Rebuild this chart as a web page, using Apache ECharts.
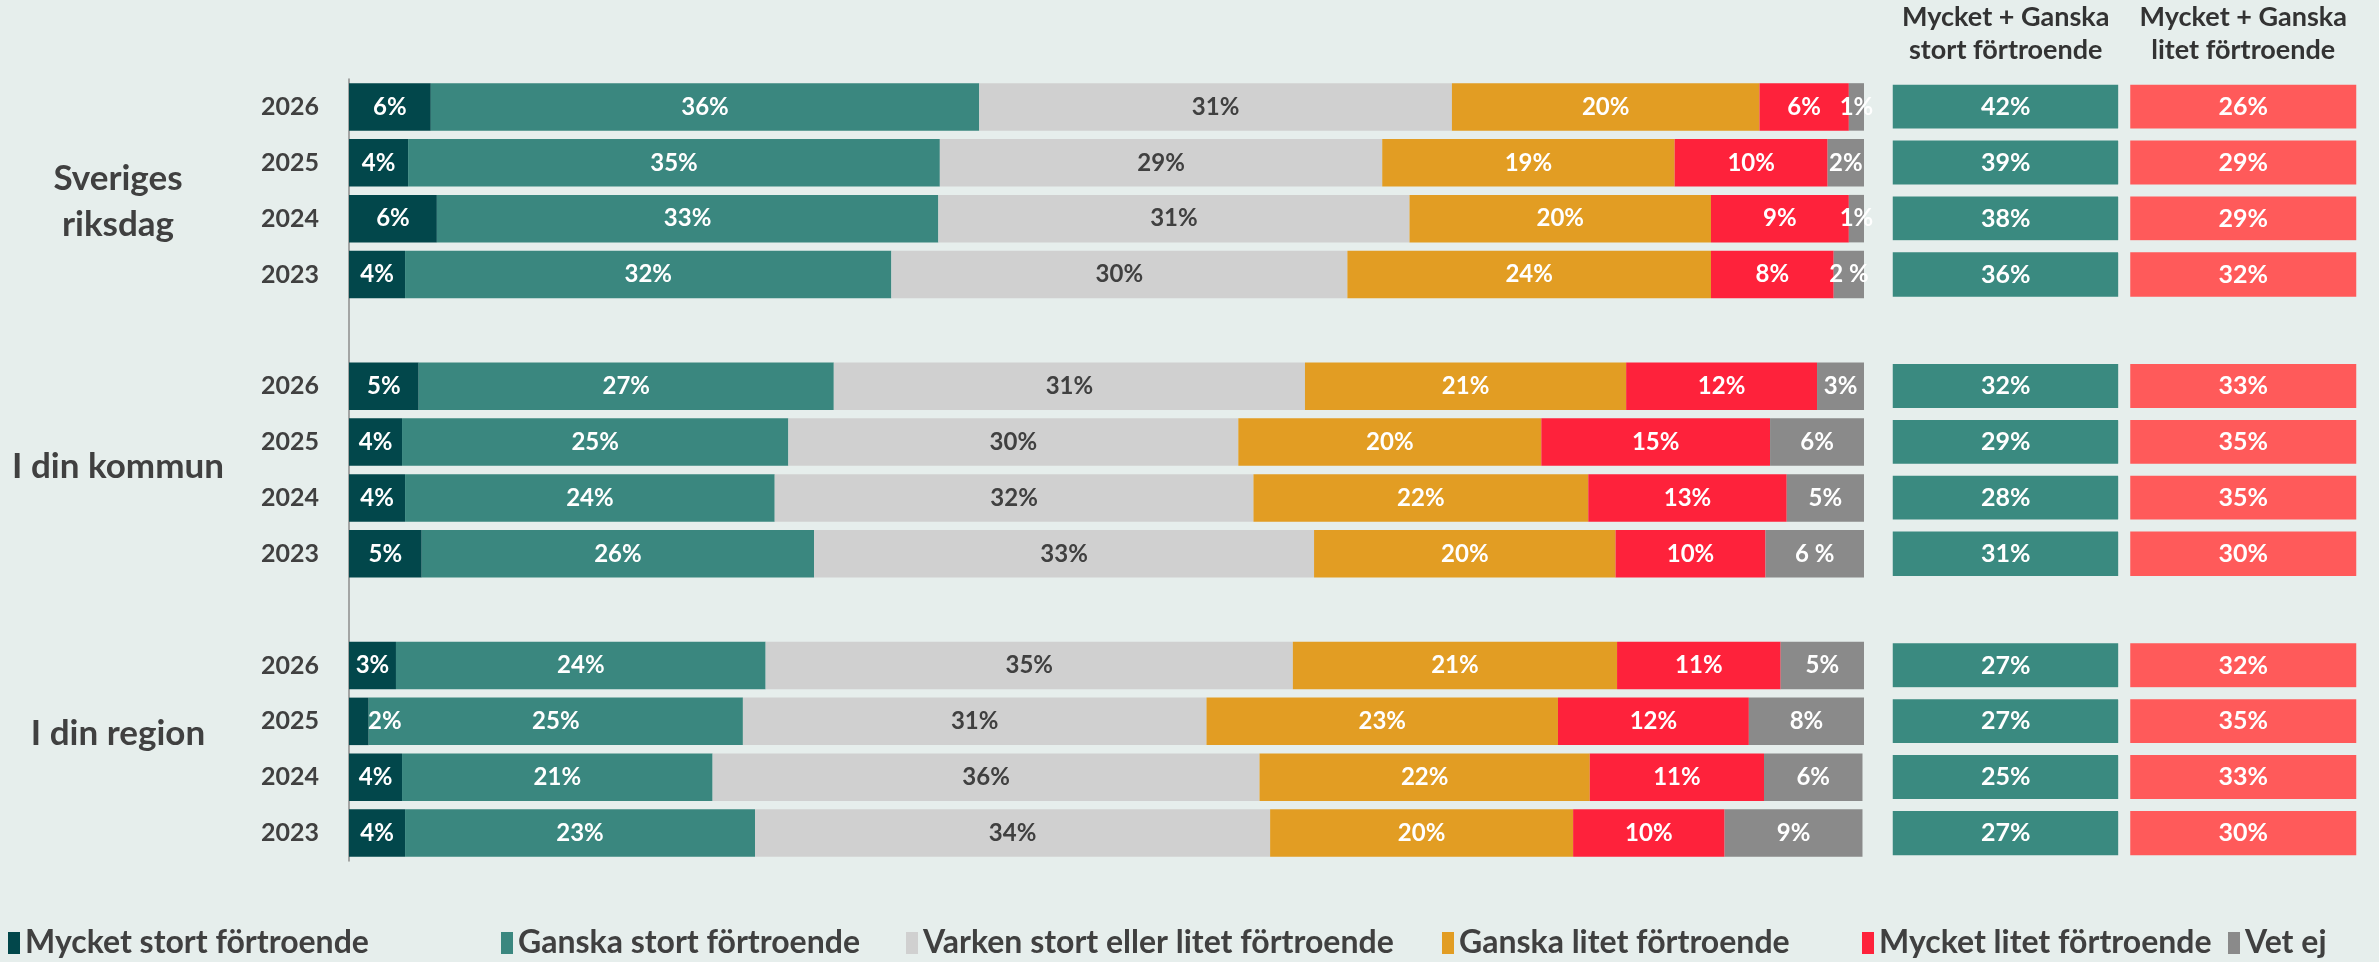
<!DOCTYPE html>
<html>
<head>
<meta charset="utf-8">
<script src="https://cdn.jsdelivr.net/npm/echarts@6/dist/echarts.min.js"></script>
<style>
  html, body { margin: 0; padding: 0; background: #e6eeec; }
  #chart { width: 2379px; height: 962px; }
</style>
</head>
<body>
<div id="chart"></div>
<script>
const groups = ['Sveriges riksdag', 'I din kommun', 'I din region'];
const years = ['2026', '2025', '2024', '2023'];

// andelar i procent, 12 rader: riksdag 2026..2023, kommun 2026..2023, region 2026..2023
const mycketStort = [5.4, 3.9, 5.8, 3.7, 4.6, 3.5, 3.7, 4.8, 3.1, 1.3, 3.5, 3.7];
const ganskaStort = [36.2, 35.1, 33.1, 32.1, 27.4, 25.5, 24.4, 25.9, 24.4, 24.7, 20.5, 23.1];
const varken = [31.2, 29.2, 31.1, 30.1, 31.1, 29.7, 31.6, 33.0, 34.8, 30.6, 36.1, 34.0];
const ganskaLitet = [20.3, 19.3, 19.9, 24.0, 21.2, 20.0, 22.1, 19.9, 21.4, 23.2, 21.8, 20.0];
const mycketLitet = [5.9, 10.1, 9.1, 8.1, 12.6, 15.1, 13.1, 9.9, 10.8, 12.6, 11.5, 10.0];
const vetEj = [1.0, 2.4, 1.0, 2.0, 3.2, 6.2, 5.2, 6.6, 5.6, 7.6, 6.5, 9.1];

// etiketterna som de står i bilden
const mycketStortTxt = ['6%', '4%', '6%', '4%', '5%', '4%', '4%', '5%', '3%', '2%', '4%', '4%'];
const ganskaStortTxt = ['36%', '35%', '33%', '32%', '27%', '25%', '24%', '26%', '24%', '25%', '21%', '23%'];
const varkenTxt = ['31%', '29%', '31%', '30%', '31%', '30%', '32%', '33%', '35%', '31%', '36%', '34%'];
const ganskaLitetTxt = ['20%', '19%', '20%', '24%', '21%', '20%', '22%', '20%', '21%', '23%', '22%', '20%'];
const mycketLitetTxt = ['6%', '10%', '9%', '8%', '12%', '15%', '13%', '10%', '11%', '12%', '11%', '10%'];
const vetEjTxt = ['1%', '2%', '1%', '2 %', '3%', '6%', '5%', '6 %', '5%', '8%', '6%', '9%'];

// Mycket + Ganska
const stortSumma = [42, 39, 38, 36, 32, 29, 28, 31, 27, 27, 25, 27];
const litetSumma = [26, 29, 29, 32, 33, 35, 35, 30, 32, 35, 33, 30];
const panelRubriker = ['Mycket + Ganska\nstort förtroende', 'Mycket + Ganska\nlitet förtroende'];

const FONT = 'Lato, "Open Sans", sans-serif';
const BG = '#e6eeec';

// kategorier med en tom rad mellan grupperna
const rows = [];
groups.forEach((g, gi) => {
  if (gi > 0) rows.push('tom' + gi);
  years.forEach(y => rows.push(g + '|' + y));
});
// 12 värden -> 14 rader
function spread(arr) {
  const out = [];
  arr.forEach((v, i) => {
    if (i > 0 && i % 4 === 0) out.push(null);
    out.push(v);
  });
  return out;
}
function rowIndex(i) { return i + Math.floor(i / 4); }

function barSeries(name, values, texts, color, textColor) {
  const txt = spread(texts);
  return {
    name: name,
    type: 'bar',
    stack: 'alla',
    barWidth: '85%',
    itemStyle: { color: color },
    emphasis: { disabled: true },
    label: {
      show: true,
      position: 'inside',
      color: textColor,
      fontFamily: FONT,
      fontWeight: 'bold',
      fontSize: 24,
      formatter: p => txt[p.dataIndex] || ''
    },
    data: spread(values)
  };
}

const series = [
  barSeries('Mycket stort förtroende', mycketStort, mycketStortTxt, '#02474b', '#fff'),
  barSeries('Ganska stort förtroende', ganskaStort, ganskaStortTxt, '#3a877f', '#fff'),
  barSeries('Varken stort eller litet förtroende', varken, varkenTxt, '#d0d0d0', '#404040'),
  barSeries('Ganska litet förtroende', ganskaLitet, ganskaLitetTxt, '#e29d23', '#fff'),
  barSeries('Mycket litet förtroende', mycketLitet, mycketLitetTxt, '#fe223b', '#fff'),
  barSeries('Vet ej', vetEj, vetEjTxt, '#8a8a8a', '#fff')
];

const panelData = [];
stortSumma.forEach((v, i) => panelData.push({ value: [0, rowIndex(i), v], itemStyle: { color: '#3a8a80' } }));
litetSumma.forEach((v, i) => panelData.push({ value: [1, rowIndex(i), v], itemStyle: { color: '#ff5a5a' } }));

series.push({
  type: 'heatmap',
  xAxisIndex: 1,
  yAxisIndex: 1,
  itemStyle: { borderColor: BG, borderWidth: 12 },
  emphasis: { disabled: true },
  label: {
    show: true,
    color: '#fff',
    fontFamily: FONT,
    fontWeight: 'bold',
    fontSize: 25,
    formatter: p => p.value[2] + '%'
  },
  data: panelData
});

const legendLeft = [3, 496, 901, 1437, 1857, 2223];

const chart = echarts.init(document.getElementById('chart'));
chart.setOption({
  backgroundColor: BG,
  animation: false,
  grid: [
    { left: 349, width: 1515, top: 79, height: 782 },
    { left: 1887, width: 475, top: 79, height: 782 }
  ],
  xAxis: [
    { type: 'value', min: 0, max: 100, show: false, gridIndex: 0 },
    {
      type: 'category', gridIndex: 1, position: 'top', data: panelRubriker,
      axisLine: { show: false }, axisTick: { show: false }, splitLine: { show: false },
      axisLabel: {
        interval: 0, margin: 12, color: '#333', fontFamily: FONT,
        fontWeight: 'bold', fontSize: 27, lineHeight: 33
      }
    }
  ],
  yAxis: [
    {
      type: 'category', gridIndex: 0, inverse: true, data: rows,
      axisLine: { lineStyle: { color: '#8c8c8c', width: 1.5 } },
      axisTick: { length: 9, lineStyle: { color: '#8c8c8c', width: 1.5 } },
      axisLabel: {
        margin: 30, color: '#404040', fontFamily: FONT, fontWeight: 'bold', fontSize: 25,
        formatter: v => v.indexOf('|') < 0 ? '' : v.split('|')[1]
      }
    },
    { type: 'category', gridIndex: 1, inverse: true, data: rows, show: false }
  ],
  legend: series.slice(0, 6).map((s, i) => ({
    data: [s.name],
    left: legendLeft[i],
    top: 920,
    icon: 'rect',
    itemWidth: 12,
    itemHeight: 22,
    selectedMode: false,
    textStyle: { color: '#404040', fontFamily: FONT, fontWeight: 'bold', fontSize: 32, lineHeight: 36 }
  })),
  labelLayout: function (params) {
    // "2%" i region 2025 ligger till höger om sin smala stapel
    if (params.seriesIndex === 0 && params.dataIndex === 11) return { dx: 26 };
  },
  graphic: [
    { type: 'text', style: { text: 'Sveriges\nriksdag', x: 118, y: 202, align: 'center', verticalAlign: 'middle', textAlign: 'center', textVerticalAlign: 'middle', lineHeight: 46, fill: '#404040', font: 'bold 35px ' + FONT } },
    { type: 'text', style: { text: 'I din kommun', x: 118, y: 467, align: 'center', verticalAlign: 'middle', textAlign: 'center', textVerticalAlign: 'middle', fill: '#404040', font: 'bold 35px ' + FONT } },
    { type: 'text', style: { text: 'I din region', x: 118, y: 734, align: 'center', verticalAlign: 'middle', textAlign: 'center', textVerticalAlign: 'middle', fill: '#404040', font: 'bold 35px ' + FONT } }
  ],
  series: series
});
</script>
</body>
</html>
